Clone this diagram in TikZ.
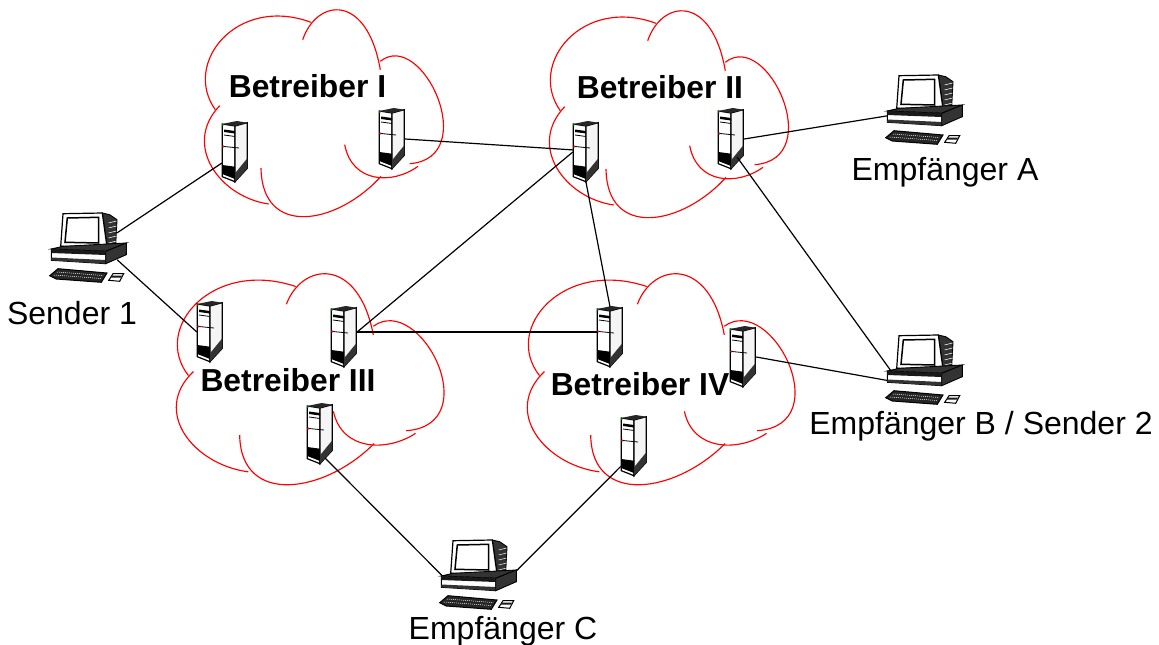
\documentclass[tikz,border=0pt]{standalone}
\usepackage{fontspec}
\setmainfont{Liberation Sans}

\tikzset{srvnode/.style={minimum width=26pt,minimum height=60pt,inner sep=0pt},
pcnode/.style={minimum width=58pt,minimum height=30pt,inner sep=0pt},
link/.style={line width=1.2pt,black},
lobe/.style={red,line width=1.15pt},
operator/.style={font=\fontsize{31.8}{34}\selectfont\bfseries,inner sep=0pt},
station/.style={font=\fontsize{32}{34}\selectfont,inner sep=0pt},
cloud/.pic={
  \draw [lobe] (-53.3,91) .. controls (-102,84) and (-140,32) .. (-102.3,-7.3);
  \draw [lobe] (-106.7,-3.3) .. controls (-140,-50) and (-85,-118) .. (-11,-90.7);
  \draw [lobe] (-19.3,-73.3) .. controls (-5,-115) and (45,-120) .. (58.3,-43.3);
  \draw [lobe] (58.3,-51.7) .. controls (100,-85) and (160,45) .. (87.7,50.7);
  \draw [lobe] (22.7,31.7) .. controls (30,70) and (70,72) .. (96,53.3);
  \draw [lobe] (59,63.3) .. controls (15,112) and (-60,125) .. (-61,55);
},
server/.pic={
  \draw [line width=1.2pt,fill=white] (-12.7,-28) -- (0,-26) -- (0,29.7) -- (-12.7,24.7) -- cycle;
  \draw [line width=1.2pt,fill=black!4] (0,-26) -- (12.3,-29.3) -- (12.3,16.3) -- (0,29.7) -- cycle;
  \fill [black!85] (-12.7,-28) -- (1.7,-31) -- (12.3,-29.3) -- (0,-26) -- cycle;
  \fill [black] (-12.7,13) -- (0,14.7) -- (0,27) -- (-12.7,22) -- cycle;
  \fill [black!80] (0,21.3) -- (12.3,6.3) -- (12.3,16.3) -- (0,29.7) -- cycle;
  \fill [black] (-11,-22.5) -- (0,-21) -- (0,-18.5) -- (-11,-20) -- cycle;
  \draw [line width=0.8pt] (-11,-17) -- (0,-15.5);
  \draw [line width=0.8pt] (-11,-5.5) -- (4,-4);
  \fill [red] (-11.7,-5.5) circle (1.1);
  \fill [green!80!black] (-12,-27) circle (0.8);
},
pcset/.pic={
  %% monitor
  \draw [line width=0.9pt,fill=black!80] (14.3,-35) -- (21.7,-33.3) -- (29,-28.3) -- (27.7,-3.3) -- (19,-1) -- cycle;
  \foreach \yy in {-26,-21,-16,-11,-6} {\draw [white,line width=0.5pt] (20.5,\yy+1) -- (28.5,\yy-1);}
  \draw [line width=1.2pt,fill=white] (-25,-34.3) -- (14.3,-35) -- (19,-1) -- (-27.3,-1.7) -- cycle;
  \draw [line width=1.5pt,fill=white] (-20.7,-30) -- (10.7,-30.7) -- (10.7,-5) -- (-23,-5.7) -- cycle;
  %% base
  \draw [line width=0.9pt,fill=black!80] (-36.7,1) -- (-25,-1.7) -- (38.3,-5) -- (17.7,3.3) -- cycle;
  \draw [line width=0.9pt,fill=white] (-36.7,1) -- (17.7,3.3) -- (17.7,15.7) -- (-36.7,12.3) -- cycle;
  \fill [black!90] (-36.7,1) -- (17.7,3.3) -- (17.7,7) -- (-36.7,5) -- cycle;
  \fill [black!80] (-36.7,9.5) -- (17.7,12) -- (17.7,15.7) -- (-36.7,12.3) -- cycle;
  \draw [line width=0.9pt,fill=black!80] (17.7,3.3) -- (38.3,-5) -- (38.3,6.7) -- (17.7,15.7) -- cycle;
  %% keyboard and mouse
  \draw [line width=1pt,fill=black!85] (-38.3,27.7) -- (-30,20.7) -- (19,25) -- (13.3,34.3) -- (-31.7,31) -- cycle;
  \draw [white,line width=0.5pt,dash pattern=on 1pt off 1pt] (-31,24) -- (15,27.5);
  \draw [white,line width=0.5pt,dash pattern=on 1pt off 1pt] (-34,27) -- (13,30.5);
  \draw [line width=1pt,fill=white] (20.7,32.3) -- (25,25.7) -- (35.7,25.7) -- (31.7,33.3) -- cycle;
  \fill [black!90] (24,27.5) -- (34,27.5) -- (33,29.5) -- (23,29.5) -- cycle;
}}

\begin{document}
\begin{tikzpicture}[x=1pt,y=-1pt]
\useasboundingbox (0,0) rectangle (1159,645);

%% clouds
\pic at (322,113) {cloud};
\pic at (667,114) {cloud};
\pic [xscale=1.12,yscale=1.02] at (308,379) {cloud};
\pic [xscale=1.12,yscale=1.02] at (659,379) {cloud};

%% server nodes
\node [srvnode] (s1) at (235,152) {};
\node [srvnode] (s2) at (392,139) {};
\node [srvnode] (s3) at (586,152) {};
\node [srvnode] (s4) at (731,139) {};
\node [srvnode] (s5) at (210,332) {};
\node [srvnode] (s6) at (344,337) {};
\node [srvnode] (s7) at (320,434) {};
\node [srvnode] (s8) at (610,337) {};
\node [srvnode] (s9) at (743,357) {};
\node [srvnode] (s10) at (634,446) {};

%% ports low on the server side
\coordinate (s4p) at (737,157);
\coordinate (s7p) at (325,458);

%% computer nodes
\node [pcnode] (p1) at (88,248) {};
\node [pcnode] (p2) at (924,110) {};
\node [pcnode] (p3) at (924,370) {};
\node [pcnode] (p4) at (478,575) {};

%% servers
\pic at (s1) {server};
\pic at (s2) {server};
\pic at (s3) {server};
\pic at (s4) {server};
\pic at (s5) {server};
\pic at (s6) {server};
\pic at (s7) {server};
\pic at (s8) {server};
\pic at (s9) {server};
\pic at (s10) {server};

%% links
\draw [link] (p1.north east) -- (s1.220);
\draw [link] (p1.-22) -- (s5.west);
\draw [link] (s2.east) -- (s3.171);
\draw [link] (s6.21) -- (s3.west);
\draw [link] (s6.21) -- (s8.159);
\draw [link] (s3.south) -- (s8.north);
\draw [link] (s4.east) -- (p2.189);
\draw [link] (s4p) -- (p3.192);
\draw [link] (s9.east) -- (p3.202);
\draw [link] (s7p) -- (p4.194);
\draw [link] (s10.237) -- (p4.-10);

%% computers
\pic at (p1) {pcset};
\pic at (p2) {pcset};
\pic at (p3) {pcset};
\pic at (p4) {pcset};

%% operator labels
\node [operator] (l1) at (307.5,86) {Betreiber I};
\node [operator] (l2) at (660,87) {Betreiber II};
\node [operator] (l3) at (288,380) {Betreiber III};
\node [operator] (l4) at (640,384) {Betreiber IV};

%% station labels
\node [station] (t1) at (72,313.5) {Sender 1};
\node [station] (t2) at (945,172) {Empfänger A};
\node [station] (t3) at (981,426) {Empfänger B / Sender 2};
\node [station] (t4) at (503,631) {Empfänger C};

\end{tikzpicture}
\end{document}
